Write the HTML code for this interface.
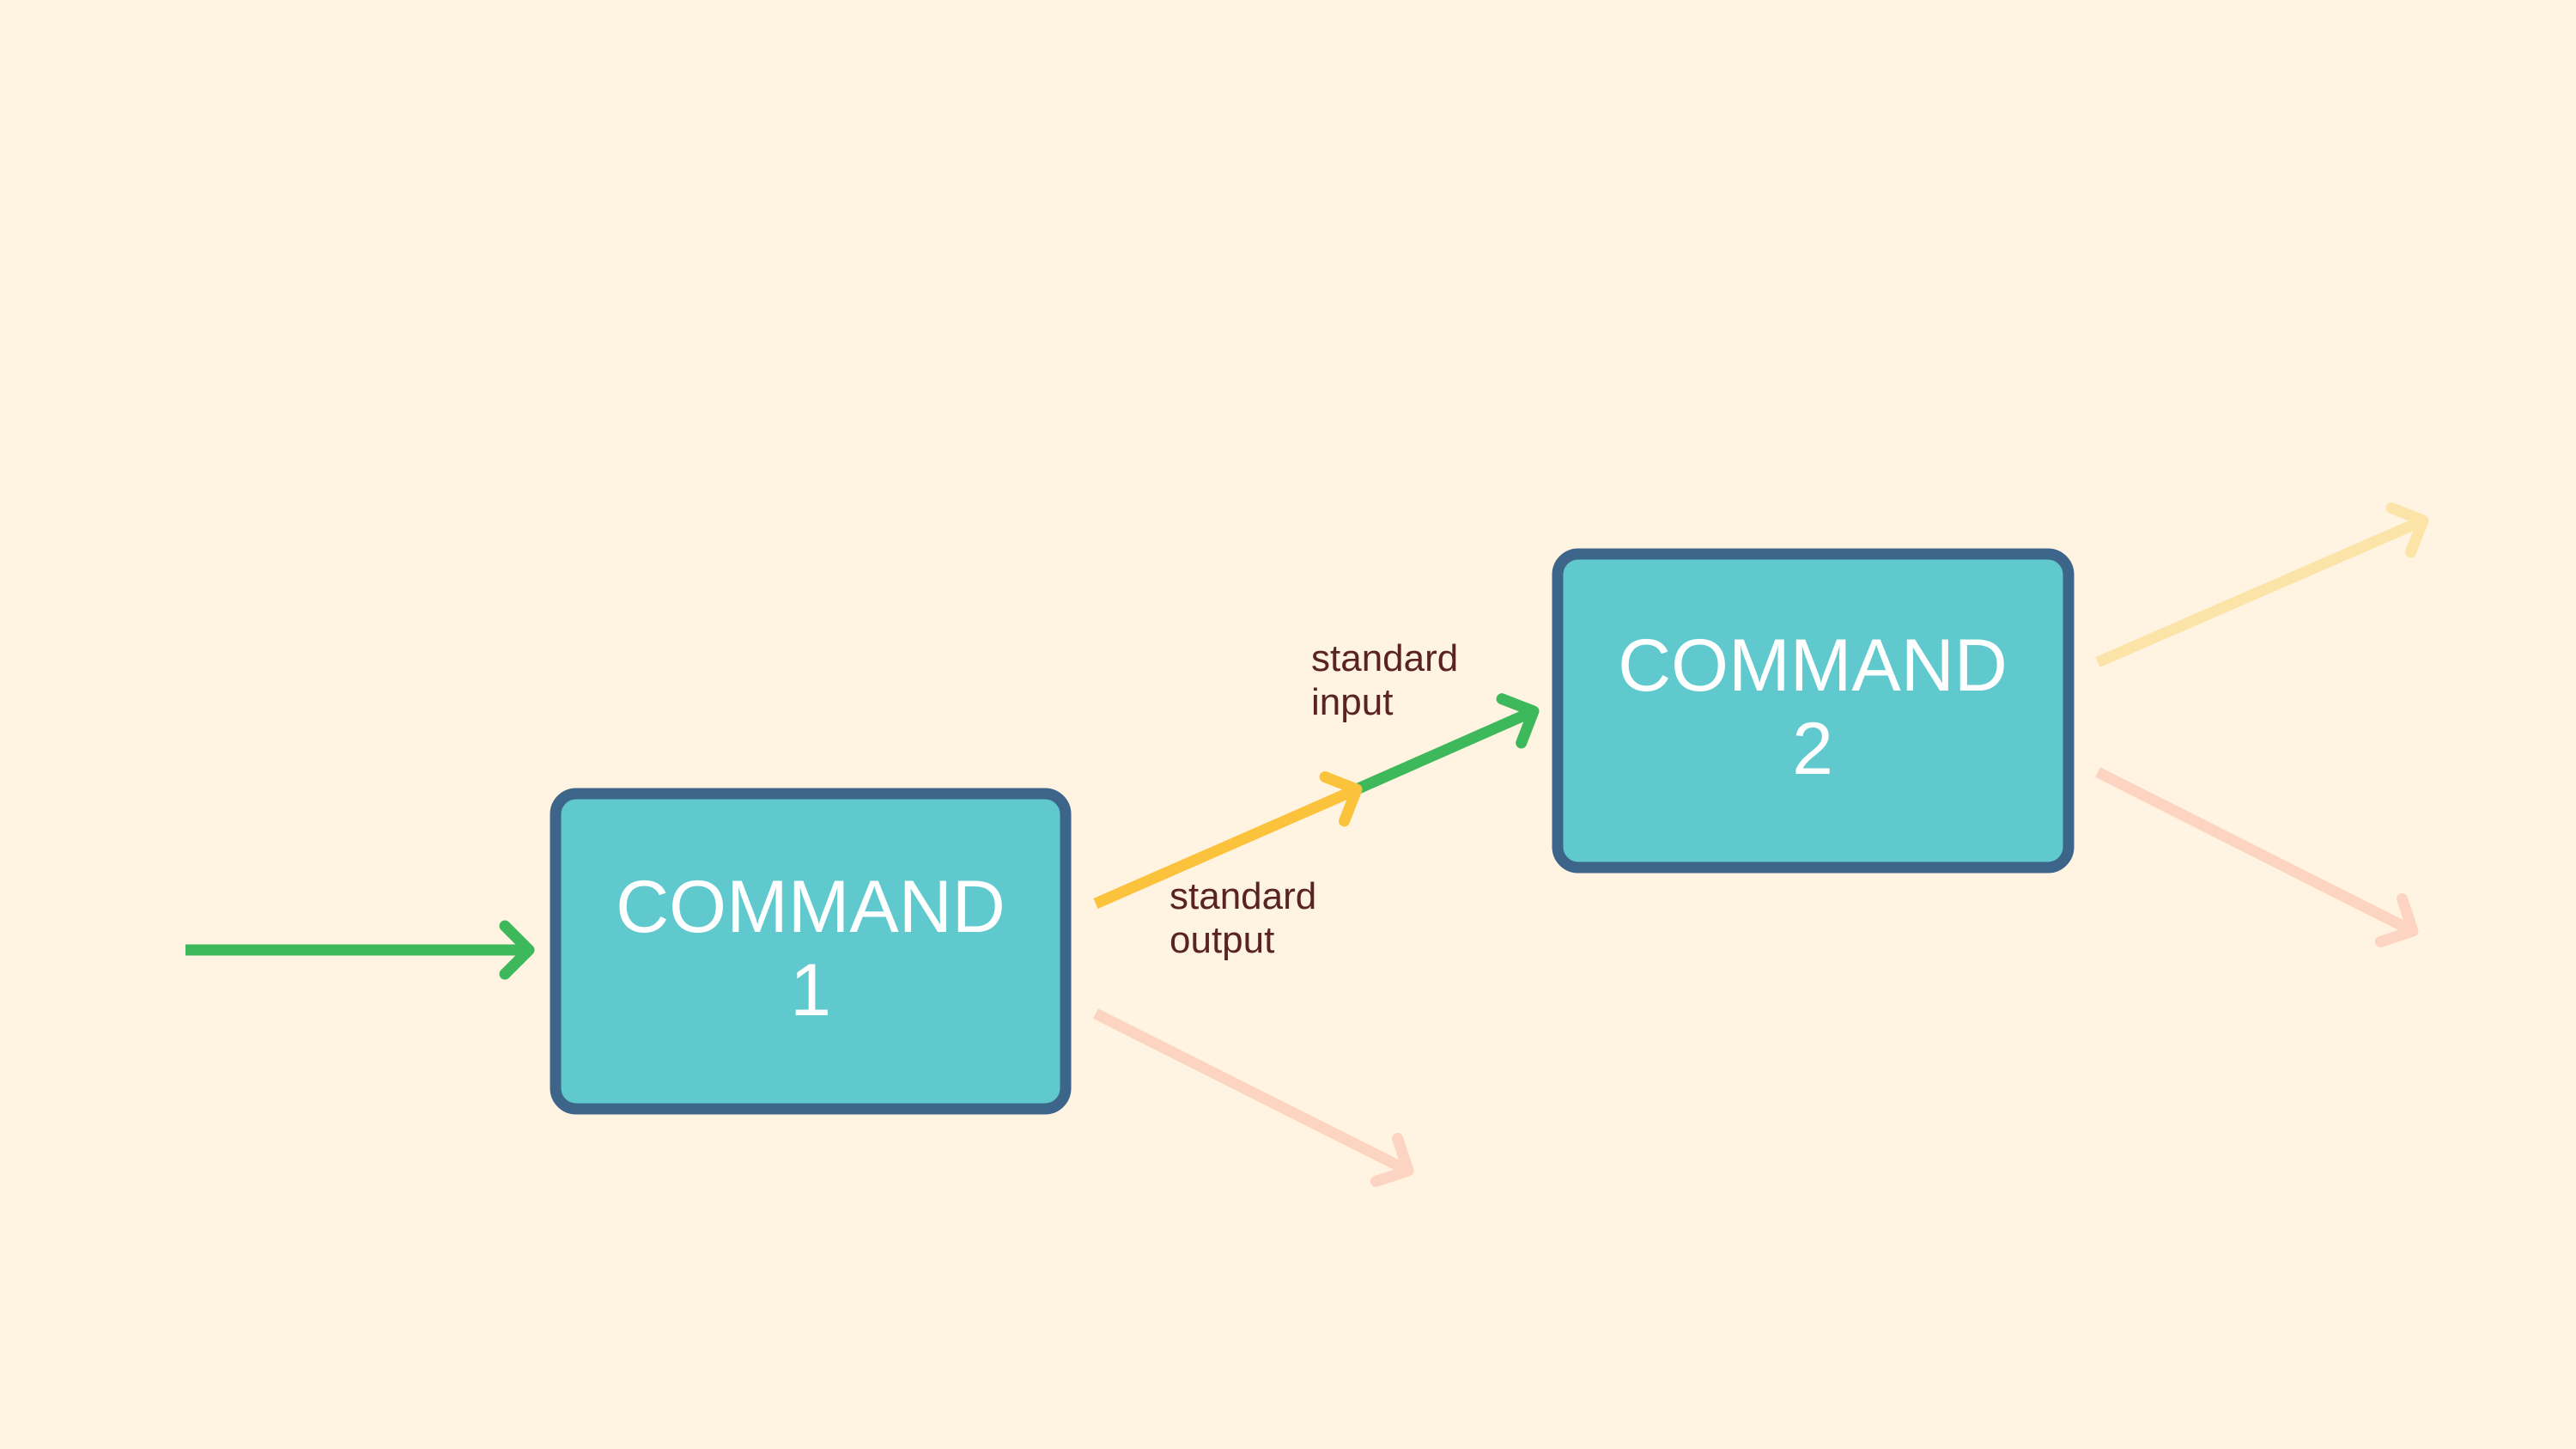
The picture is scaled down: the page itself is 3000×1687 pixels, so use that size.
<!DOCTYPE html>
<html><head><meta charset="utf-8"><style>
html,body{margin:0;padding:0;background:#fff4e2;}
svg{display:block;}
</style></head><body>
<svg width="3000" height="1687" viewBox="0 0 3000 1687" xmlns="http://www.w3.org/2000/svg">
<defs>
<marker id="hg" markerUnits="userSpaceOnUse" markerWidth="100" markerHeight="100" refX="50" refY="50" orient="auto" viewBox="0 0 100 100"><path d="M22 22 L50 50 L22 78" fill="none" stroke="#3db85a" stroke-width="13" stroke-linecap="round" stroke-linejoin="round"/></marker>
<marker id="hy" markerUnits="userSpaceOnUse" markerWidth="100" markerHeight="100" refX="50" refY="50" orient="auto" viewBox="0 0 100 100"><path d="M22 22 L50 50 L22 78" fill="none" stroke="#fbc23c" stroke-width="13" stroke-linecap="round" stroke-linejoin="round"/></marker>
<marker id="hly" markerUnits="userSpaceOnUse" markerWidth="100" markerHeight="100" refX="50" refY="50" orient="auto" viewBox="0 0 100 100"><path d="M22 22 L50 50 L22 78" fill="none" stroke="#fce3a8" stroke-width="13" stroke-linecap="round" stroke-linejoin="round"/></marker>
<marker id="hp" markerUnits="userSpaceOnUse" markerWidth="100" markerHeight="100" refX="50" refY="50" orient="auto" viewBox="0 0 100 100"><path d="M22 22 L50 50 L22 78" fill="none" stroke="#fdd3c1" stroke-width="13" stroke-linecap="round" stroke-linejoin="round"/></marker>
</defs>
<rect width="3000" height="1687" fill="#fff4e2"/>
<line x1="216" y1="1106" x2="616" y2="1106" stroke="#3db85a" stroke-width="13" marker-end="url(#hg)"/>
<line x1="1582" y1="918" x2="1786" y2="828" stroke="#3db85a" stroke-width="13" marker-end="url(#hg)"/>
<line x1="1276" y1="1052" x2="1580" y2="919" stroke="#fbc23c" stroke-width="13" marker-end="url(#hy)"/>
<line x1="1276" y1="1180" x2="1640" y2="1363" stroke="#fdd3c1" stroke-width="13" marker-end="url(#hp)"/>
<line x1="2443" y1="771" x2="2822" y2="606" stroke="#fce3a8" stroke-width="13" marker-end="url(#hly)"/>
<line x1="2443" y1="899" x2="2810" y2="1084" stroke="#fdd3c1" stroke-width="13" marker-end="url(#hp)"/>
<rect x="647" y="924" width="594" height="367" rx="24" fill="#5fc9cd" stroke="#3c6589" stroke-width="13"/>
<rect x="1814" y="645" width="595" height="365" rx="24" fill="#5fc9cd" stroke="#3c6589" stroke-width="13"/>
<g font-family="Liberation Sans, sans-serif" font-size="86" fill="#ffffff" text-anchor="middle">
<text x="944" y="1085">COMMAND</text><text x="944" y="1182">1</text>
<text x="2111" y="804">COMMAND</text><text x="2111" y="901">2</text>
</g>
<g font-family="Liberation Sans, sans-serif" font-size="44" fill="#5a2323">
<text x="1527" y="781">standard</text><text x="1527" y="832">input</text>
<text x="1362" y="1058">standard</text><text x="1362" y="1109">output</text>
</g>
</svg>
</body></html>
